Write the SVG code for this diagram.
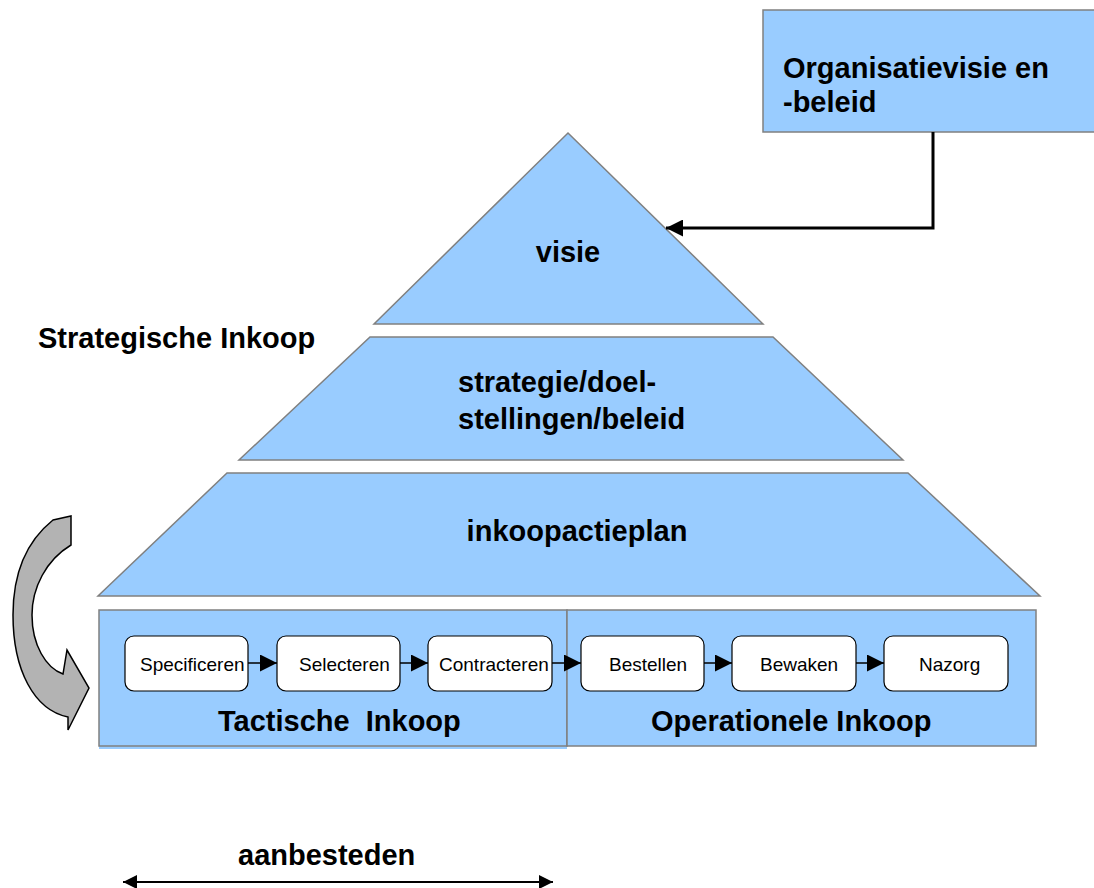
<svg xmlns="http://www.w3.org/2000/svg" width="1094" height="888" viewBox="0 0 1094 888">
<defs>
<style>
.shape{fill:#99CCFF;stroke:#808080;stroke-width:1.5}
.box{fill:#FFFFFF;stroke:#000000;stroke-width:1.2}
.big{font-family:"Liberation Sans",Arial,sans-serif;font-weight:bold;font-size:29px;fill:#000;white-space:pre}
.small{font-family:"Liberation Sans",Arial,sans-serif;font-size:19px;fill:#000}
.conn{fill:none;stroke:#000;stroke-width:1.5}
</style>
<marker id="ah" viewBox="0 0 10 10" refX="10" refY="5" markerWidth="17" markerHeight="17" markerUnits="userSpaceOnUse" orient="auto">
<path d="M0,0 L10,5 L0,10 Z" fill="#000"/>
</marker>
<marker id="ah2" viewBox="0 0 10 10" refX="10" refY="5" markerWidth="14" markerHeight="14" markerUnits="userSpaceOnUse" orient="auto-start-reverse">
<path d="M0,0 L10,5 L0,10 Z" fill="#000"/>
</marker>
</defs>
<rect width="1094" height="888" fill="#FFFFFF"/>

<g id="org">
<rect class="shape" x="763" y="10" width="340" height="122"/>
<text class="big" x="783" y="78">Organisatievisie en</text>
<text class="big" x="783" y="112">-beleid</text>
</g>

<g id="visie">
<polygon class="shape" points="568,133 763,324 374,324"/>
<text class="big" x="568" y="262" text-anchor="middle">visie</text>
</g>

<g id="strategie">
<polygon class="shape" points="370,337 773,337 903,460 239,460"/>
<text class="big" x="458" y="392">strategie/doel-</text>
<text class="big" x="458" y="429">stellingen/beleid</text>
</g>

<g id="inkoopactieplan">
<polygon class="shape" points="227,473 908,473 1040,596 98,596"/>
<text class="big" x="577" y="541" text-anchor="middle">inkoopactieplan</text>
</g>

<g id="strategische">
<text class="big" x="38" y="348">Strategische Inkoop</text>
</g>

<g id="tactisch">
<rect x="99" y="610" width="468" height="139" fill="#99CCFF"/>
<rect class="shape" x="99" y="610" width="468" height="136"/>
<text class="big" x="218" y="731" xml:space="preserve">Tactische  Inkoop</text>
</g>

<g id="operationeel">
<rect class="shape" x="567" y="610" width="469" height="136"/>
<text class="big" x="651" y="731">Operationele Inkoop</text>
</g>

<g id="specificeren"><rect class="box" x="125" y="636" width="123" height="55" rx="9"/><text class="small" x="140" y="671">Specificeren</text></g>
<g id="selecteren"><rect class="box" x="277" y="636" width="123" height="55" rx="9"/><text class="small" x="299" y="671">Selecteren</text></g>
<g id="contracteren"><rect class="box" x="428" y="636" width="124" height="55" rx="9"/><text class="small" x="439" y="671">Contracteren</text></g>
<g id="bestellen"><rect class="box" x="581" y="636" width="123" height="55" rx="9"/><text class="small" x="609" y="671">Bestellen</text></g>
<g id="bewaken"><rect class="box" x="732" y="636" width="124" height="55" rx="9"/><text class="small" x="760" y="671">Bewaken</text></g>
<g id="nazorg"><rect class="box" x="884" y="636" width="124" height="55" rx="9"/><text class="small" x="919" y="671">Nazorg</text></g>

<g id="cycle-arrow">
<path d="M53,520 L71,516 L71,545 C46,560 32,588 32,615 C32,645 46,668 63,674 L67,650 L89,688 L68,730 L68,717 C34,710 13,670 13,615 C13,572 28,540 53,520 Z" fill="#B3B3B3" stroke="#000" stroke-width="1.5"/>
</g>

<g id="aanbesteden">
<text class="big" x="238" y="865">aanbesteden</text>
</g>

<g id="connectors">
<line class="conn" x1="248" y1="663" x2="277" y2="663" marker-end="url(#ah)"/>
<line class="conn" x1="400" y1="663" x2="428" y2="663" marker-end="url(#ah)"/>
<line class="conn" x1="552" y1="663" x2="581" y2="663" marker-end="url(#ah)"/>
<line class="conn" x1="704" y1="663" x2="732" y2="663" marker-end="url(#ah)"/>
<line class="conn" x1="856" y1="663" x2="884" y2="663" marker-end="url(#ah)"/>
<polyline points="933,132 933,228 666,228" fill="none" stroke="#000" stroke-width="3" marker-end="url(#ah)"/>
<line x1="123" y1="882" x2="553" y2="882" stroke="#000" stroke-width="2" marker-start="url(#ah2)" marker-end="url(#ah2)"/>
</g>
</svg>
